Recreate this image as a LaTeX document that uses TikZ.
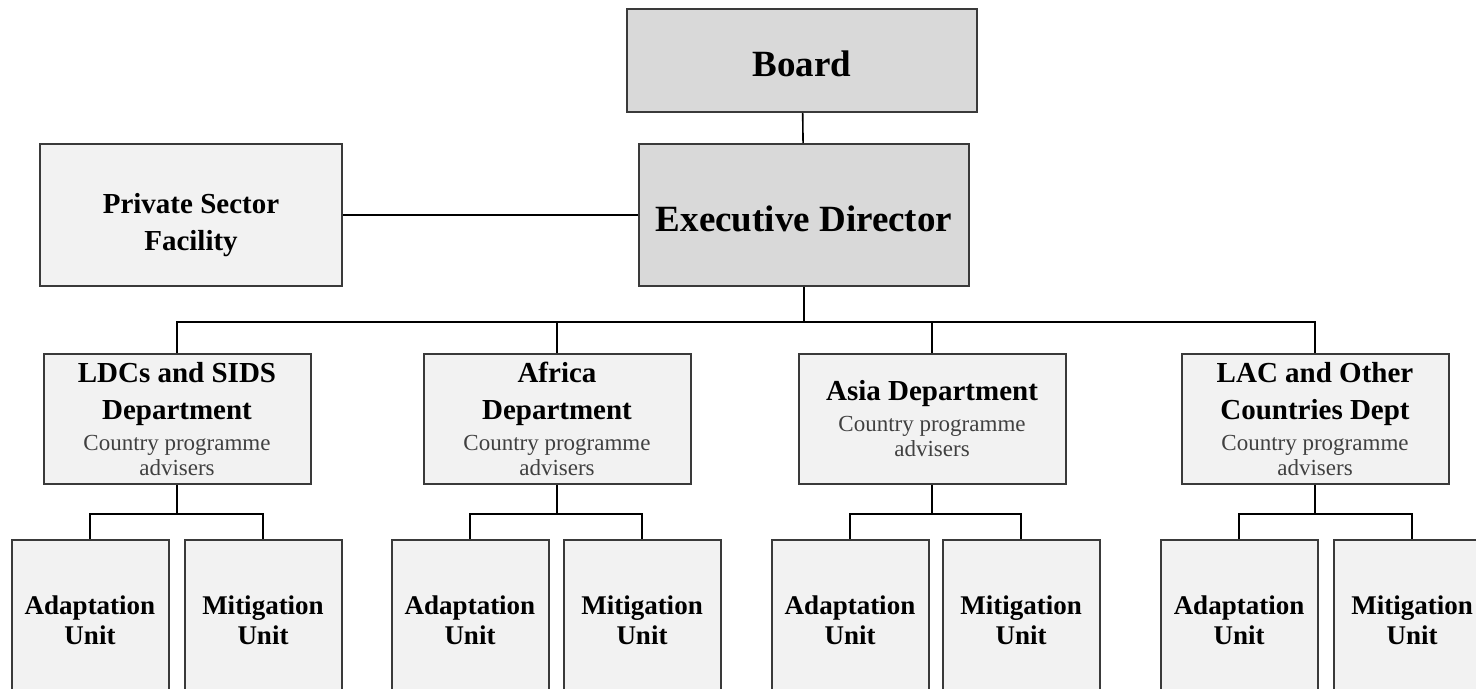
\documentclass[tikz,border=0pt]{standalone}
\usepackage{fontspec}
\setmainfont{Liberation Serif}
\usetikzlibrary{positioning}

\definecolor{boxgray}{HTML}{D9D9D9}
\definecolor{boxlight}{HTML}{F2F2F2}
\definecolor{boxline}{HTML}{3A3A3A}
\definecolor{subtext}{HTML}{404040}

% small grey line under each department title
\newcommand{\subfont}{\fontsize{11.5}{13}\selectfont\mdseries\color{subtext}}

\tikzset{
  orgbox/.style={draw=boxline, line width=1pt, align=center, inner sep=0pt},
  topbox/.style={orgbox, fill=boxgray,
    font=\fontsize{18.5}{22}\selectfont\bfseries},
  sidebox/.style={orgbox, fill=boxlight,
    font=\fontsize{14.5}{18.5}\selectfont\bfseries},
  deptbox/.style={orgbox, fill=boxlight, minimum width=133.5pt, minimum height=65pt,
    font=\fontsize{14.5}{18.5}\selectfont\bfseries},
  unitbox/.style={orgbox, fill=boxlight, minimum width=78.5pt, minimum height=80pt,
    font=\fontsize{13.5}{15}\selectfont\bfseries},
  link/.style={line width=0.8pt, black}
}

\begin{document}
\begin{tikzpicture}[x=0.5pt, y=-0.5pt]
   \useasboundingbox (0,0) rectangle (1476,689);
   \clip (0,0) rectangle (1476,689);

   % top of the chart
   \node[topbox, minimum width=175pt, minimum height=51.5pt] (board) at (802,60.5)
        {\rule{0pt}{16pt}Board};
   \node[topbox, minimum width=165pt, minimum height=71pt] (exec) at (804,215)
        {\rule{0pt}{17pt}Executive Director};
   \node[sidebox, minimum width=151pt, minimum height=71pt] (psf) at (191,215)
        {\rule{0pt}{20pt}Private Sector\\Facility};

   % departments
   \node[deptbox] (ldc) at (177,419)
        {LDCs and SIDS\\Department\\[-3pt]{\subfont Country programme}\\[-6pt]{\subfont advisers}};
   \node[deptbox] (afr) at (557,419)
        {Africa\\Department\\[-3pt]{\subfont Country programme}\\[-6pt]{\subfont advisers}};
   \node[deptbox] (asia) at (932,419)
        {Asia Department\\[-3pt]{\subfont Country programme}\\[-6pt]{\subfont advisers}};
   \node[deptbox] (lac) at (1315,419)
        {LAC and Other\\Countries Dept\\[-3pt]{\subfont Country programme}\\[-6pt]{\subfont advisers}};

   % units under each department
   \foreach \d/\xa/\xm in {ldc/90/263, afr/470/642, asia/850/1021, lac/1239/1412} {
      \node[unitbox] (\d A) at (\xa,620) {Adaptation\\Unit};
      \node[unitbox] (\d M) at (\xm,620) {Mitigation\\Unit};
   }

   % connectors
   \draw[link] (board) -- (exec);
   \draw[link] (psf) -- (exec);
   \draw[link, line width=1.2pt] (exec.south) -- ++(0,35) coordinate (bus);
   \foreach \d in {ldc, afr, asia, lac} {
      \draw[link] (bus) -| (\d.north);
      \draw[link] (\d.south) -- ++(0,29) coordinate (\d fork);
      \draw[link] (\d fork) -| (\d A.north);
      \draw[link] (\d fork) -| (\d M.north);
   }
\end{tikzpicture}
\end{document}
